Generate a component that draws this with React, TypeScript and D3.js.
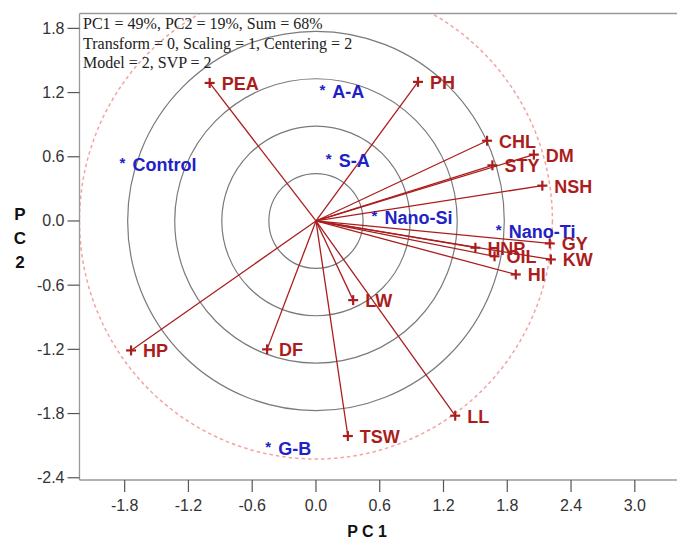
import React from "react";
import * as d3 from "d3";

const variables = ["PEA", "PH", "CHL", "DM", "STY", "NSH", "GY", "KW", "HNP", "OIL", "HI", "LW", "HP", "DF", "TSW", "LL"];
const varPC1 = [-1.0, 0.96, 1.61, 2.05, 1.66, 2.13, 2.2, 2.21, 1.5, 1.68, 1.88, 0.35, -1.74, -0.46, 0.3, 1.31];
const varPC2 = [1.29, 1.3, 0.75, 0.62, 0.52, 0.33, -0.21, -0.36, -0.25, -0.33, -0.5, -0.74, -1.21, -1.2, -2.01, -1.82];

const genotypes = ["Control", "A-A", "S-A", "Nano-Si", "Nano-Ti", "G-B"];
const genPC1 = [-1.82, 0.06, 0.12, 0.55, 1.72, -0.45];
const genPC2 = [0.55, 1.23, 0.59, 0.06, -0.075, -2.1];

const xTicks = [-1.8, -1.2, -0.6, 0.0, 0.6, 1.2, 1.8, 2.4, 3.0];
const yTicks = [1.8, 1.2, 0.6, 0.0, -0.6, -1.2, -1.8, -2.4];
const circleRadii = [0.443, 0.886, 1.329, 1.772];
const outerRadius = [2.225];
const infoLines = [
  "PC1 = 49%, PC2 = 19%, Sum = 68%",
  "Transform = 0, Scaling = 1, Centering = 2",
  "Model = 2, SVP = 2",
];

const W = 677;
const H = 540;
const left = 79.5;
const right = 677;
const top = 13.5;
const bottom = 480;

const RED = "#ab1d1d";
const BLUE = "#2222c4";

export default function App() {
  const x = d3.scaleLinear().domain([-2.225, 3.397]).range([left, right]);
  const y = d3.scaleLinear().domain([1.939, -2.421]).range([top, bottom]);
  const x0 = x(0);
  const y0 = y(0);
  const sx = x(1) - x(0);
  const sy = y(0) - y(1);

  return (
    <svg
      width={W}
      height={H}
      style={{ position: "absolute", left: 0, top: 0, background: "#fff" }}
      fontFamily="'Liberation Sans', Arial, sans-serif"
    >
      <defs>
        <clipPath id="plotClip">
          <rect x={left} y={top} width={right - left} height={bottom - top} />
        </clipPath>
      </defs>

      <g clipPath="url(#plotClip)">
        {circleRadii.map((r, i) => (
          <ellipse key={"c" + i} cx={x0} cy={y0} rx={r * sx} ry={r * sy} fill="none" stroke="#7a7a7a" strokeWidth={1.2} />
        ))}
        {outerRadius.map((r, i) => (
          <ellipse
            key={"o" + i}
            cx={x0}
            cy={y0}
            rx={r * sx}
            ry={r * sy}
            fill="none"
            stroke="#f3a3a3"
            strokeWidth={1.5}
            strokeDasharray="3.5 3"
          />
        ))}
        {variables.map((v, i) => (
          <line key={"l" + v} x1={x0} y1={y0} x2={x(varPC1[i])} y2={y(varPC2[i])} stroke={RED} strokeWidth={1.3} />
        ))}
      </g>

      {/* genotypes */}
      {genotypes.map((g, i) => {
        const px = x(genPC1[i]);
        const py = y(genPC2[i]);
        return (
          <g key={"g" + g} fill={BLUE} fontWeight="bold">
            <text x={px} y={py + 6} textAnchor="middle" fontSize={15}>*</text>
            <text x={px + 10} y={py + 3} dominantBaseline="central" fontSize={18}>{g}</text>
          </g>
        );
      })}

      {/* variables */}
      {variables.map((v, i) => {
        const px = x(varPC1[i]);
        const py = y(varPC2[i]);
        return (
          <g key={"v" + v}>
            <line x1={px - 5} x2={px + 5} y1={py} y2={py} stroke={RED} strokeWidth={2.2} />
            <line x1={px} x2={px} y1={py - 5} y2={py + 5} stroke={RED} strokeWidth={2.2} />
            <text x={px + 12} y={py + 1} dominantBaseline="central" fontSize={18} fontWeight="bold" fill={RED}>
              {v}
            </text>
          </g>
        );
      })}

      {/* frame */}
      <line x1={left} x2={left} y1={top} y2={bottom} stroke="#999" strokeWidth={1.3} />
      <line x1={left} x2={right} y1={top} y2={top} stroke="#999" strokeWidth={1.3} />
      <line x1={left} x2={right} y1={bottom} y2={bottom} stroke="#999" strokeWidth={1.3} />

      {/* y ticks */}
      {yTicks.map((t) => (
        <g key={"yt" + t}>
          <line x1={left - 12} x2={left} y1={y(t)} y2={y(t)} stroke="#555" strokeWidth={1.2} />
          <text x={left - 15} y={y(t)} textAnchor="end" dominantBaseline="central" fontSize={16} fill="#333">
            {t.toFixed(1)}
          </text>
        </g>
      ))}

      {/* x ticks */}
      {xTicks.map((t) => (
        <g key={"xt" + t}>
          <line x1={x(t)} x2={x(t)} y1={bottom} y2={bottom + 12} stroke="#555" strokeWidth={1.2} />
          <text x={x(t)} y={bottom + 25} textAnchor="middle" dominantBaseline="central" fontSize={16} fill="#333">
            {t.toFixed(1)}
          </text>
        </g>
      ))}

      {/* axis titles */}
      <text x={367} y={531} textAnchor="middle" dominantBaseline="central" fontSize={16} fontWeight="bold" fill="#111">
        P C 1
      </text>
      {["P", "C", "2"].map((c, i) => (
        <text key={"pc2" + c} x={20} y={214 + i * 24} textAnchor="middle" dominantBaseline="central" fontSize={17} fontWeight="bold" fill="#111">
          {c}
        </text>
      ))}

      {/* info text */}
      {infoLines.map((s, i) => (
        <text key={"info" + i} x={83} y={29 + i * 19.7} fontSize={16} fontFamily="'Liberation Serif', 'Times New Roman', serif" fill="#222">
          {s}
        </text>
      ))}
    </svg>
  );
}
